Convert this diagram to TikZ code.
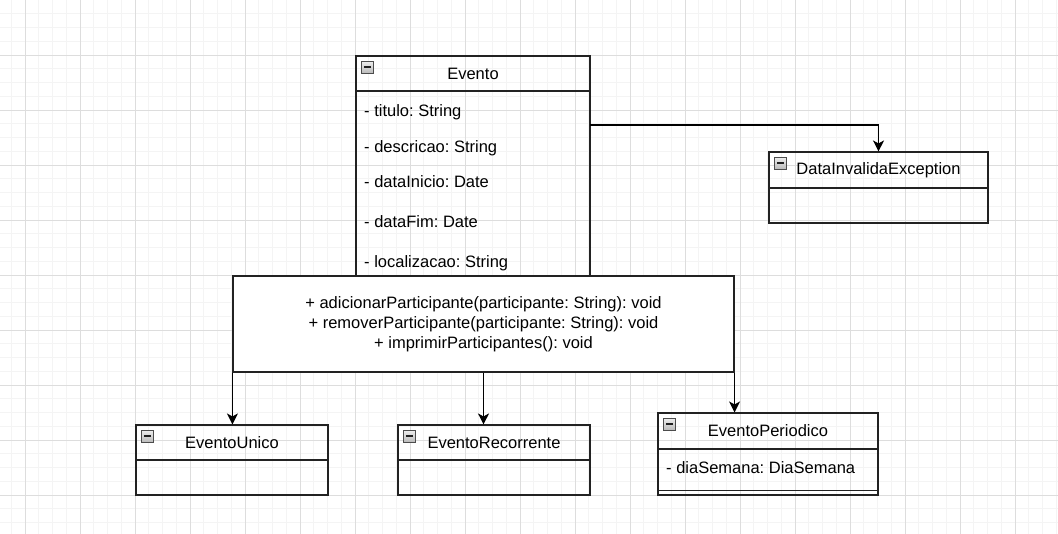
\documentclass[tikz,border=0pt]{standalone}
\usepackage{fontspec}
\setmainfont{Liberation Sans}
\usetikzlibrary{arrows.meta}

\definecolor{gridminor}{HTML}{F4F4F4}
\definecolor{gridmajor}{HTML}{DDDDDD}
\definecolor{boxline}{HTML}{222222}

\tikzset{
  classhead/.style={rectangle, draw=boxline, line width=1.1pt, inner sep=0pt},
  classbody/.style={rectangle, draw=boxline, line width=1.1pt, inner sep=0pt},
  attr/.style={anchor=base west, inner sep=0pt},
  arrowline/.style={-{Stealth[length=11pt, width=11pt, inset=3pt]}, line width=1.3pt, black},
  iconbox/.style={draw=gray!60!black, line width=0.6pt, top color=gray!15, bottom color=gray!55},
  iconbar/.style={draw=gray!25!black, line width=2pt}
}

% minus icon in the top left corner of a class header
\newcommand{\boxicon}[1]{%
  \draw[iconbox] ([shift={(6,6)}]#1.north west) rectangle ++(12,12);
  \draw[iconbar] ([shift={(8.5,12)}]#1.north west) -- ++(7,0);
}

\begin{document}
\frenchspacing
\begin{tikzpicture}[x=1pt, y=-1pt, every node/.style={font=\fontsize{16.5}{20}\selectfont}]
  \useasboundingbox (0,0) rectangle (1058,534);
  % Grid
  \foreach \i in {0,...,76} \draw[gridminor, line width=0.9pt] (11.25+13.75*\i, 0) -- (11.25+13.75*\i, 534);
  \foreach \j in {1,...,38} \draw[gridminor, line width=0.9pt] (0, 13.75*\j) -- (1058, 13.75*\j);
  \foreach \i in {0,...,18} \draw[gridmajor, line width=0.9pt] (25+55*\i, 0) -- (25+55*\i, 534);
  \foreach \j in {1,...,9} \draw[gridmajor, line width=0.9pt] (0, 55*\j) -- (1058, 55*\j);

  % Nodes
  \node (evento) [classhead, minimum width=234pt, minimum height=35pt] at (473, 73.5) {Evento};
  \node (eventoattr) [classbody, minimum width=234pt, minimum height=185pt] at (473, 183.5) {};
  \node (titulo) [attr] at (364, 116.5) {- titulo: String};
  \node (descricao) [attr] at (364, 152.5) {- descricao: String};
  \node (datainicio) [attr] at (364, 187.5) {- dataInicio: Date};
  \node (datafim) [attr] at (364, 227.5) {- dataFim: Date};
  \node (localizacao) [attr] at (364, 267.5) {- localizacao: String};
  \node (metodos) [classbody, fill=white, minimum width=501pt, minimum height=96pt, align=center] at (483.5, 324)
    {+ adicionarParticipante(participante: String): void\\
     + removerParticipante(participante: String): void\\
     + imprimirParticipantes(): void};
  \node (excecao) [classhead, minimum width=219pt, minimum height=36pt] at (878.5, 170) {DataInvalidaException};
  \node (excecaoattr) [classbody, minimum width=219pt, minimum height=35pt] at (878.5, 205.5) {};
  \node (unico) [classhead, minimum width=192pt, minimum height=35pt] at (232, 442.5) {EventoUnico};
  \node (unicoattr) [classbody, minimum width=192pt, minimum height=35pt] at (232, 477.5) {};
  \node (recorrente) [classhead, minimum width=192pt, minimum height=35pt] at (494, 442.5) {EventoRecorrente};
  \node (recorrenteattr) [classbody, minimum width=192pt, minimum height=35pt] at (494, 477.5) {};
  \node (periodico) [classhead, minimum width=220pt, minimum height=36pt] at (768, 431) {EventoPeriodico};
  \node (periodicoattr) [classbody, minimum width=220pt, minimum height=46pt] at (768, 472) {};
  \node (diasemana) [attr] at (666, 473.5) {- diaSemana: DiaSemana};
  \draw[boxline, line width=1.1pt] ([yshift=5pt]periodicoattr.south west) -- ([yshift=5pt]periodicoattr.south east);

  % Icons
  \boxicon{evento}
  \boxicon{excecao}
  \boxicon{unico}
  \boxicon{recorrente}
  \boxicon{periodico}

  % Arrows
  \coordinate (saida) at (590, 125);
  \draw[arrowline] (saida) -| (excecao.north);
  \draw[arrowline] (metodos.south west) -- (metodos.south west |- unico.north);
  \draw[arrowline] (metodos.south) -- (metodos.south |- recorrente.north);
  \draw[arrowline] (metodos.south east) -- (metodos.south east |- periodico.north);
\end{tikzpicture}
\end{document}
